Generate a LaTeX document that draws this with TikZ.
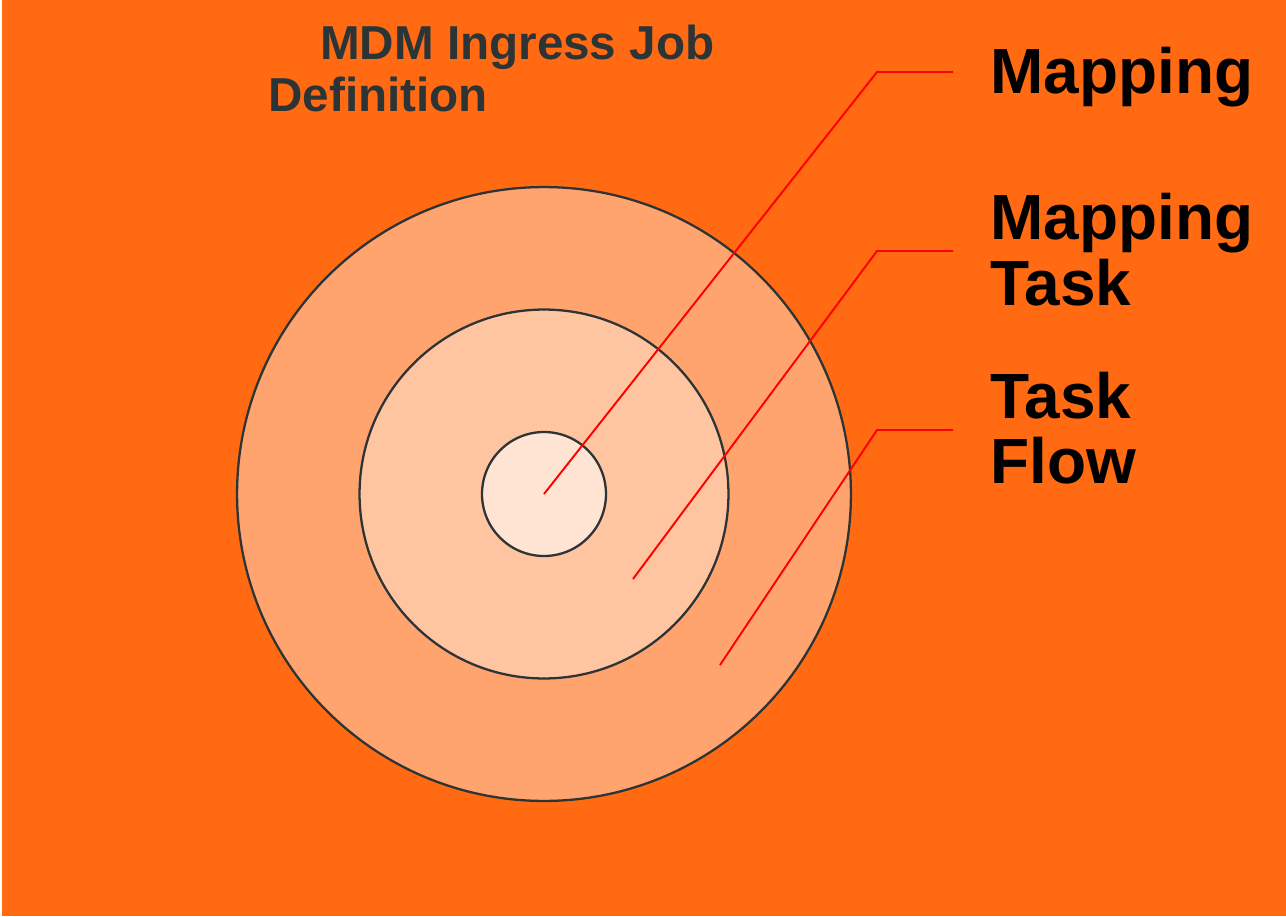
\documentclass[tikz,border=0pt]{standalone}
\usepackage{fontspec}
\setmainfont{Liberation Sans}
\definecolor{bgorange}{HTML}{FF6A13}
\definecolor{ringouter}{HTML}{FFA46E}
\definecolor{ringmid}{HTML}{FFC4A0}
\definecolor{ringinner}{HTML}{FFE3D3}
\definecolor{inkgray}{HTML}{2D3436}
\begin{document}
\begin{tikzpicture}[x=0.02cm,y=-0.02cm]

		\tikzstyle{ring}=[circle,
			draw=inkgray,line width=1.3pt,
			inner sep=0mm]
		\tikzstyle{pointer}=[draw=red,line width=1.1pt]
		\tikzstyle{tag}=[anchor=north west,
			inner sep=0mm,align=left,
			font=\bfseries\fontsize{36.4}{37.3}\selectfont]

		\fill[white]	(0,0) rectangle (1286,917);
		\fill[bgorange]	(2,0) rectangle (1286,916);

		\node[anchor=north west,inner sep=0mm,align=left,text=inkgray,
			font=\bfseries\fontsize{27.1}{29.4}\selectfont]
			(title) at (268,24.5) {\hspace*{29.5pt}MDM Ingress Job\\Definition};

		\node[ring,fill=ringouter,minimum size=12.28cm]	(flow)	at (544,494) {};
		\node[ring,fill=ringmid,minimum size=7.38cm]	(task)	at (544,494) {};
		\node[ring,fill=ringinner,minimum size=2.48cm]	(map)	at (544,494) {};

		\coordinate (map-in)	at (544,494);
		\coordinate (task-in)	at (633,579);
		\coordinate (flow-in)	at (720,665);

		\node[tag]	(map-tag)	at (990,46.5)	{Mapping};
		\node[tag]	(task-tag)	at (990,193)	{Mapping\\Task};
		\node[tag]	(flow-tag)	at (990,371.5)	{Task\\Flow};

		\coordinate (map-end)	at (953,72);
		\coordinate (task-end)	at (953,251);
		\coordinate (flow-end)	at (953,430);

		\draw[pointer]	(map-in)	-- (877,72)		-- (map-end);
		\draw[pointer]	(task-in)	-- (877,251)	-- (task-end);
		\draw[pointer]	(flow-in)	-- (877,430)	-- (flow-end);

	\end{tikzpicture}
\end{document}
